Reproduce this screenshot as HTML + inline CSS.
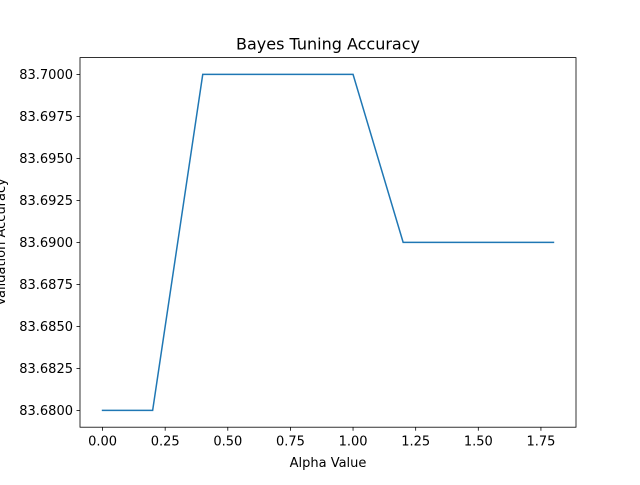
<!DOCTYPE html>
<html><head><meta charset="utf-8"><style>
body{margin:0;background:#fff}
text{font-family:"DejaVu Sans","Liberation Sans",sans-serif;fill:#000}
</style></head><body>
<svg id="chart" width="640" height="480" xmlns="http://www.w3.org/2000/svg">
<rect width="640" height="480" fill="#fff"/>
<text x="328" y="49.5" font-size="16" text-anchor="middle">Bayes Tuning Accuracy</text>
<text x="328" y="467" font-size="13" text-anchor="middle">Alpha Value</text>
<text transform="translate(5,242) rotate(-90)" font-size="13" text-anchor="middle">Validation Accuracy</text>
<g id="xt"></g>
<g id="yt"></g>
<polyline id="line" fill="none" stroke="#1f77b4" stroke-width="1.5" stroke-linecap="square"/>
<rect x="80" y="57.6" width="496" height="369.6" fill="none" stroke="#000" stroke-width="0.8"/>
</svg>
<script>
const alphas=[0,0.2,0.4,0.6,0.8,1.0,1.2,1.4,1.6,1.8];
const accuracy=[83.68,83.68,83.70,83.70,83.70,83.70,83.69,83.69,83.69,83.69];
const xTicks=[0,0.25,0.5,0.75,1.0,1.25,1.5,1.75];
const xTickLabels=["0.00","0.25","0.50","0.75","1.00","1.25","1.50","1.75"];
const yTicks=[83.68,83.6825,83.685,83.6875,83.69,83.6925,83.695,83.6975,83.70];
const yTickLabels=["83.6800","83.6825","83.6850","83.6875","83.6900","83.6925","83.6950","83.6975","83.7000"];
const X0=80,X1=576,Y0=427.2,Y1=57.6;
const xmin=-0.09,xmax=1.89,ymin=83.679,ymax=83.701;
const sx=v=>X0+(v-xmin)/(xmax-xmin)*(X1-X0);
const sy=v=>Y0-(v-ymin)/(ymax-ymin)*(Y0-Y1);
const NS="http://www.w3.org/2000/svg";
const xt=document.getElementById('xt'),yt=document.getElementById('yt');
xTicks.forEach((t,i)=>{
 const l=document.createElementNS(NS,'line');
 
 
 l.setAttribute('x1',sx(t));l.setAttribute('x2',sx(t));l.setAttribute('y1',Y0);l.setAttribute('y2',Y0+3.5);l.setAttribute('stroke','#000');l.setAttribute('stroke-width','0.8');xt.appendChild(l);
 const tx=document.createElementNS(NS,'text');
 
 
 tx.setAttribute('x',sx(t));tx.setAttribute('y',Y0+18.5);tx.setAttribute('font-size','13');tx.setAttribute('text-anchor','middle');tx.textContent=xTickLabels[i];xt.appendChild(tx);
});
yTicks.forEach((t,i)=>{
 const l=document.createElementNS(NS,'line');
 
 
 l.setAttribute('x1',X0-3.5);l.setAttribute('x2',X0);l.setAttribute('y1',sy(t));l.setAttribute('y2',sy(t));l.setAttribute('stroke','#000');l.setAttribute('stroke-width','0.8');yt.appendChild(l);
 const tx=document.createElementNS(NS,'text');
 
 
 tx.setAttribute('x',X0-7);tx.setAttribute('y',sy(t)+4.7);tx.setAttribute('font-size','13');tx.setAttribute('text-anchor','end');tx.textContent=yTickLabels[i];yt.appendChild(tx);
});
document.getElementById('line').setAttribute('points',alphas.map((a,i)=>sx(a)+','+sy(accuracy[i])).join(' '));
</script>
</body></html>
